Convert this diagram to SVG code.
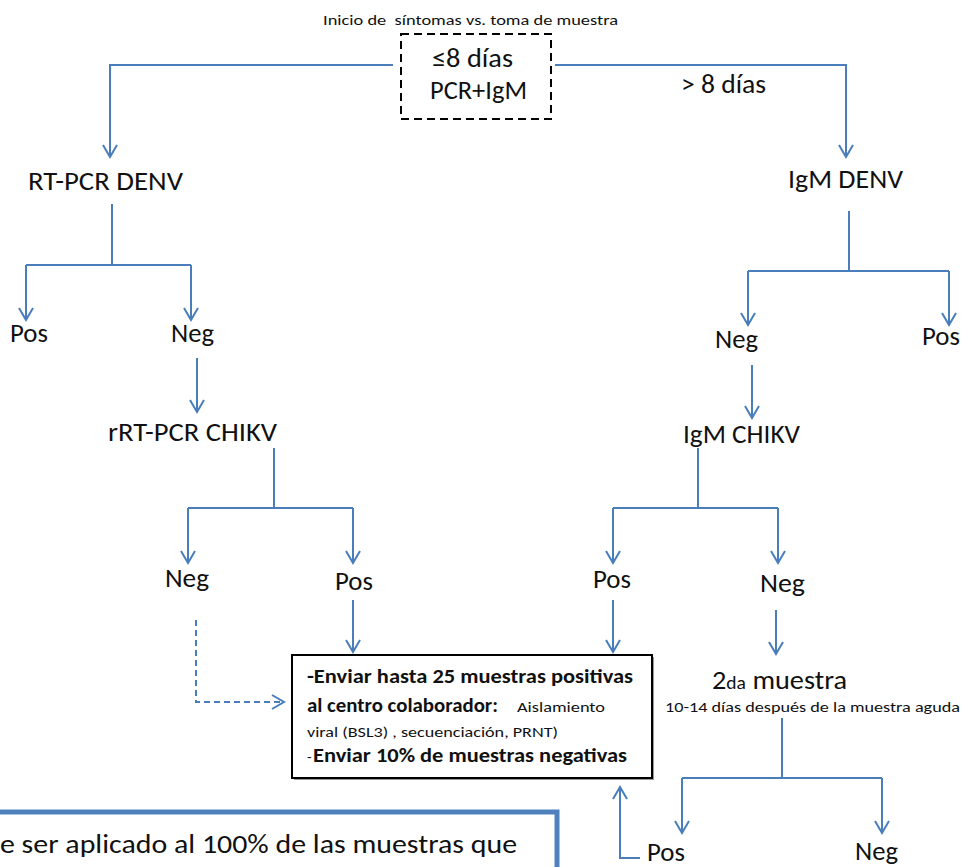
<svg xmlns="http://www.w3.org/2000/svg" width="964" height="867" viewBox="0 0 964 867">
<defs>
<style>
text{font-family:Carlito,"Liberation Sans",Arial,sans-serif;fill:#111}
.l{font-size:27.5px}
.m{font-size:26.5px}
.s{font-size:15px}
.b{font-size:20px;font-weight:bold}
.c{fill:none;stroke:#4A7EBB;stroke-width:2}
.a{marker-end:url(#ah)}
.d{stroke-dasharray:6,4}
</style>
<marker id="ah" markerUnits="userSpaceOnUse" markerWidth="20" markerHeight="20" viewBox="-14 -10 16 20" refX="0" refY="0" orient="auto" overflow="visible">
<path d="M-12,-7 L0,0 L-12,7" fill="none" stroke="#4A7EBB" stroke-width="2"/>
</marker>
</defs>
<rect width="964" height="867" fill="#fff"/>
<g id="connectors">
<path class="c a" d="M393,65 H110 V157"/>
<path class="c a" d="M555,65 H846 V157"/>
<path class="c" d="M112,204 V265 M26,265 H191"/>
<path class="c a" d="M26,265 V320"/>
<path class="c a" d="M191,265 V320"/>
<path class="c a" d="M197,358 V412"/>
<path class="c" d="M274,448 V508 M188,508 H353"/>
<path class="c a" d="M188,508 V563"/>
<path class="c a" d="M353,508 V563"/>
<path class="c a" d="M353,600 V652"/>
<path class="c d a" d="M196,620 V702 H284"/>
<path class="c" d="M849,211 V271 M748,271 H949"/>
<path class="c a" d="M748,271 V325"/>
<path class="c a" d="M949,271 V325"/>
<path class="c a" d="M752,365 V418"/>
<path class="c" d="M698,448 V508 M613,508 H778"/>
<path class="c a" d="M613,508 V563"/>
<path class="c a" d="M778,508 V563"/>
<path class="c a" d="M613,600 V652"/>
<path class="c a" d="M776,610 V654"/>
<path class="c" d="M782,718 V778 M682,778 H882"/>
<path class="c a" d="M682,778 V833"/>
<path class="c a" d="M882,778 V833"/>
<path class="c a" d="M640,858 H620 V787"/>
</g>
<g id="title"><text class="s" x="323" y="25" xml:space="preserve" textLength="295" lengthAdjust="spacingAndGlyphs">Inicio de  síntomas vs. toma de muestra</text></g>
<g id="start">
<rect x="401" y="34" width="150" height="85" fill="none" stroke="#000" stroke-width="2" stroke-dasharray="8,5"/>
<text class="m" x="432" y="67" textLength="81" lengthAdjust="spacingAndGlyphs">≤8 días</text>
<text class="m" x="430" y="99" textLength="97" lengthAdjust="spacingAndGlyphs">PCR+IgM</text>
</g>
<g id="gt8"><text class="l" x="681" y="93" textLength="85" lengthAdjust="spacingAndGlyphs">&gt; 8 días</text></g>
<g id="rtpcr-denv"><text class="l" x="28" y="190" textLength="155" lengthAdjust="spacingAndGlyphs">RT-PCR DENV</text></g>
<g id="pos1"><text class="l" x="10" y="342" textLength="38" lengthAdjust="spacingAndGlyphs">Pos</text></g>
<g id="neg1"><text class="l" x="171" y="342" textLength="43" lengthAdjust="spacingAndGlyphs">Neg</text></g>
<g id="rrtpcr-chikv"><text class="l" x="108" y="441" textLength="169" lengthAdjust="spacingAndGlyphs">rRT-PCR CHIKV</text></g>
<g id="neg2"><text class="l" x="165" y="587" textLength="44" lengthAdjust="spacingAndGlyphs">Neg</text></g>
<g id="pos2"><text class="l" x="335" y="590" textLength="38" lengthAdjust="spacingAndGlyphs">Pos</text></g>
<g id="igm-denv"><text class="l" x="788" y="188" textLength="115" lengthAdjust="spacingAndGlyphs">IgM DENV</text></g>
<g id="neg3"><text class="l" x="715" y="348" textLength="43" lengthAdjust="spacingAndGlyphs">Neg</text></g>
<g id="pos3"><text class="l" x="922" y="345" textLength="38" lengthAdjust="spacingAndGlyphs">Pos</text></g>
<g id="igm-chikv"><text class="l" x="683" y="443" textLength="117" lengthAdjust="spacingAndGlyphs">IgM CHIKV</text></g>
<g id="pos4"><text class="l" x="593" y="588" textLength="38" lengthAdjust="spacingAndGlyphs">Pos</text></g>
<g id="neg4"><text class="l" x="760" y="592" textLength="45" lengthAdjust="spacingAndGlyphs">Neg</text></g>
<g id="segunda">
<text x="712" y="689" class="l" textLength="135" lengthAdjust="spacingAndGlyphs">2<tspan font-size="19">da</tspan> muestra</text>
<text class="s" x="665" y="712" textLength="295" lengthAdjust="spacingAndGlyphs">10-14 días después de la muestra aguda</text>
</g>
<g id="pos5"><text class="l" x="647" y="861" textLength="38" lengthAdjust="spacingAndGlyphs">Pos</text></g>
<g id="neg5"><text class="l" x="855" y="860" textLength="43" lengthAdjust="spacingAndGlyphs">Neg</text></g>
<g id="enviar">
<rect x="294" y="657" width="360" height="123" fill="#999"/>
<rect x="292" y="655" width="360" height="123" fill="#fff" stroke="#000" stroke-width="2"/>
<text class="b" x="307" y="683" textLength="326" lengthAdjust="spacingAndGlyphs">-Enviar hasta 25 muestras positivas</text>
<text class="b" x="307" y="712" textLength="191" lengthAdjust="spacingAndGlyphs">al centro colaborador:</text>
<text class="s" x="517" y="712" textLength="88" lengthAdjust="spacingAndGlyphs">Aislamiento</text>
<text class="s" x="307" y="737" textLength="251" lengthAdjust="spacingAndGlyphs">viral (BSL3) , secuenciación, PRNT)</text>
<text class="s" x="307" y="762">-</text>
<text class="b" x="313" y="762" textLength="314" lengthAdjust="spacingAndGlyphs">Enviar 10% de muestras negativas</text>
</g>
<g id="nota">
<rect x="-10" y="812" width="567" height="80" fill="none" stroke="#4F81BD" stroke-width="5"/>
<text class="l" x="0" y="853" textLength="517" lengthAdjust="spacingAndGlyphs">e ser aplicado al 100% de las muestras que</text>
</g>
</svg>
